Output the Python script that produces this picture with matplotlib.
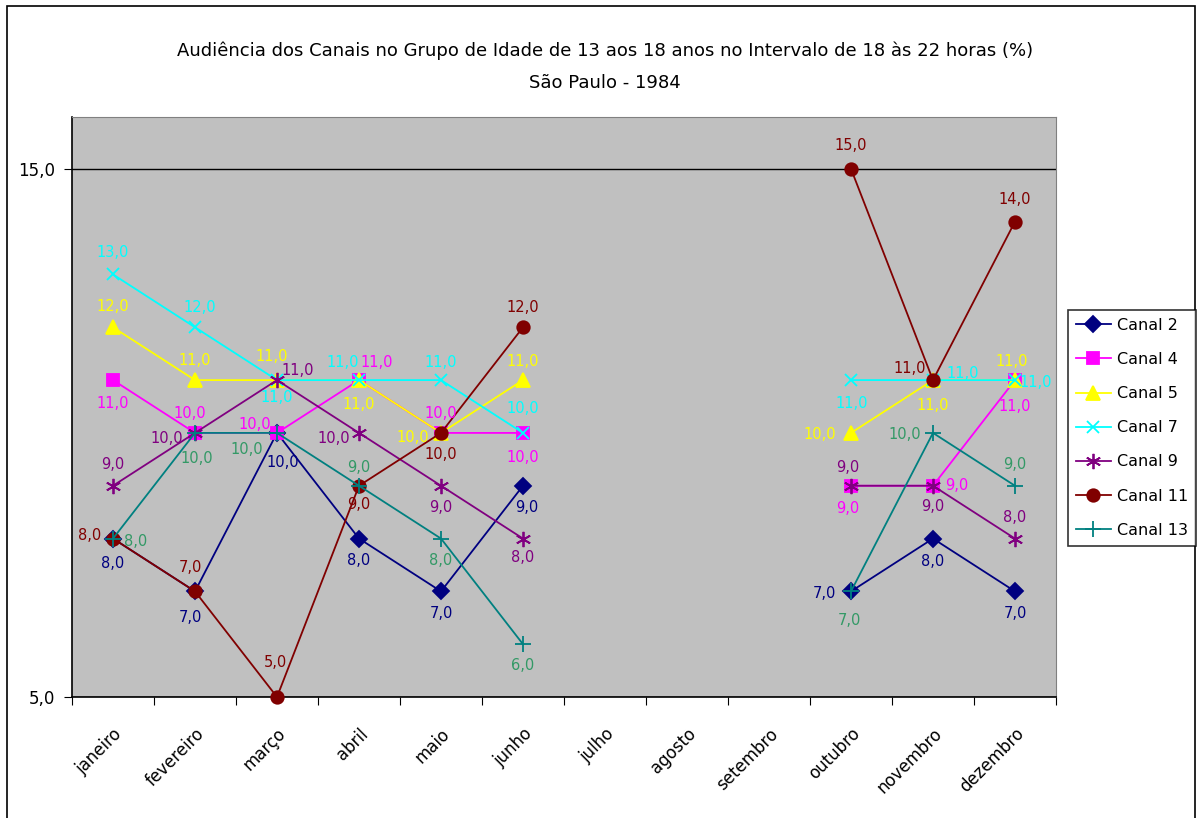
import numpy as np
import matplotlib
matplotlib.use('Agg')
import matplotlib.pyplot as plt
from matplotlib.lines import Line2D
from matplotlib.patches import Rectangle

nan = np.nan

months = ['janeiro', 'fevereiro', 'março', 'abril', 'maio', 'junho',
          'julho', 'agosto', 'setembro', 'outubro', 'novembro', 'dezembro']

canal_2 = [8, 7, 10, 8, 7, 9, nan, nan, nan, 7, 8, 7]
canal_4 = [11, 10, 10, 11, 10, 10, nan, nan, nan, 9, 9, 11]
canal_5 = [12, 11, 11, 11, 10, 11, nan, nan, nan, 10, 11, 11]
canal_7 = [13, 12, 11, 11, 11, 10, nan, nan, nan, 11, 11, 11]
canal_9 = [9, 10, 11, 10, 9, 8, nan, nan, nan, 9, 9, 8]
canal_11 = [8, 7, 5, 9, 10, 12, nan, nan, nan, 15, 11, 14]
canal_13 = [8, 10, 10, 9, 8, 6, nan, nan, nan, 7, 10, 9]

series = [
    ('Canal 2', canal_2),
    ('Canal 4', canal_4),
    ('Canal 5', canal_5),
    ('Canal 7', canal_7),
    ('Canal 9', canal_9),
    ('Canal 11', canal_11),
    ('Canal 13', canal_13),
]

# style: line colour, label colour, marker, marker size
styles = {
    'Canal 2': ('#000080', '#000080', 'D', 8),
    'Canal 4': ('#FF00FF', '#FF00FF', 's', 8),
    'Canal 5': ('#FFFF00', '#FFFF00', '^', 10),
    'Canal 7': ('#00FFFF', '#00FFFF', 'x', 9),
    'Canal 9': ('#800080', '#800080', (6, 2, 0), 11),
    'Canal 11': ('#800000', '#800000', 'o', 9),
    'Canal 13': ('#008080', '#339966', '+', 11),
}

# data label offsets in pixels (dx, dy), one per month
offsets = {
    'Canal 2': [(0, -25), (-5, -26), (6, -30), (0, -22), (0, -22), (4, -22),
                None, None, None, (-27, -2), (0, -23), (0, -22)],
    'Canal 4': [(0, -23), (-5, 19), (-22, 8), (18, 18), (0, 19), (0, -25),
                None, None, None, (-3, -23), (24, 0), (0, -26)],
    'Canal 5': [(0, 21), (0, 20), (-5, 24), (0, -24), (-28, -5), (0, 19),
                None, None, None, (-31, -2), (0, -25), (-3, 19)],
    'Canal 7': [(0, 22), (5, 20), (0, -17), (-16, 18), (0, 18), (0, 24),
                None, None, None, (1, -23), (30, 7), (21, -2)],
    'Canal 9': [(0, 21), (-28, -6), (21, 10), (-25, -6), (0, -22), (0, -19),
                None, None, None, (-3, 18), (0, -21), (0, 21)],
    'Canal 11': [(-23, 3), (-5, 24), (-2, 35), (0, -19), (0, -22), (0, 20),
                 None, None, None, (0, 23), (-23, 12), (0, 22)],
    'Canal 13': [(23, -3), (2, -26), (-30, -17), (0, 18), (0, -22), (0, -21),
                 None, None, None, (-2, -29), (-28, -2), (0, 21)],
}


def fmt(v):
    return '{:.1f}'.format(v).replace('.', ',')


fig = plt.figure(figsize=(12.01, 8.18), dpi=100)
fig.patch.set_facecolor('white')
fig.patches.append(Rectangle((0.006, -0.02), 0.989, 1.013, transform=fig.transFigure,
                             fill=False, edgecolor='black', linewidth=1.2))

ax = fig.add_axes([0.05995, 0.1479, 0.8193, 0.709])
ax.set_facecolor('#C0C0C0')

x = np.arange(len(months))
handles = []
for name, vals in series:
    lc, tc, mk, ms = styles[name]
    y = np.array(vals, dtype=float)
    ax.plot(x, y, color=lc, linewidth=1.3, marker=mk, markersize=ms,
            markerfacecolor=lc, markeredgecolor=lc, markeredgewidth=1.3,
            clip_on=False, zorder=3)
    for i, v in enumerate(y):
        if np.isnan(v):
            continue
        dx, dy = offsets[name][i]
        ax.annotate(fmt(v), (x[i], v), xytext=(dx, dy), textcoords='offset pixels',
                    ha='center', va='center', color=tc, fontsize=10.5, zorder=4)
    handles.append(Line2D([], [], color=lc, linewidth=1.3, marker=mk, markersize=ms,
                          markerfacecolor=lc, markeredgecolor=lc, markeredgewidth=1.3,
                          label=name))

ax.set_xlim(-0.5, 11.5)
ax.set_ylim(5, 15.98)
ax.set_yticks([5, 15])
ax.set_yticklabels([fmt(5), fmt(15)], fontsize=12)
ax.yaxis.grid(True, color='black', linewidth=1)
ax.set_axisbelow(True)

ax.set_xticks(np.arange(-0.5, 12, 1), minor=False)
ax.set_xticklabels([])
ax.set_xticks(x, minor=True)
ax.set_xticklabels(months, minor=True, rotation=45, ha='right', va='top',
                   rotation_mode='anchor', fontsize=12)
ax.tick_params(axis='x', which='minor', length=0, pad=20)
ax.tick_params(axis='x', which='major', length=6, direction='out', color='black')
ax.tick_params(axis='y', length=6, direction='out', pad=6)

for s in ['top', 'right']:
    ax.spines[s].set_color('#808080')
for s in ['left', 'bottom']:
    ax.spines[s].set_color('black')
    ax.spines[s].set_linewidth(1.2)

fig.text(0.504, 0.938, 'Audiência dos Canais no Grupo de Idade de 13 aos 18 anos no Intervalo de 18 às 22 horas (%)',
         ha='center', va='center', fontsize=13)
fig.text(0.504, 0.899, 'São Paulo - 1984', ha='center', va='center', fontsize=13)

leg = fig.legend(handles=handles, loc='center left', bbox_to_anchor=(0.889, 0.477),
                 fontsize=11.5, frameon=True, fancybox=False, edgecolor='black',
                 borderpad=0.5, labelspacing=1.2, handlelength=2.2, handletextpad=0.4,
                 borderaxespad=0.0)
leg.get_frame().set_linewidth(1.2)

fig.savefig('out.png', dpi=100)
